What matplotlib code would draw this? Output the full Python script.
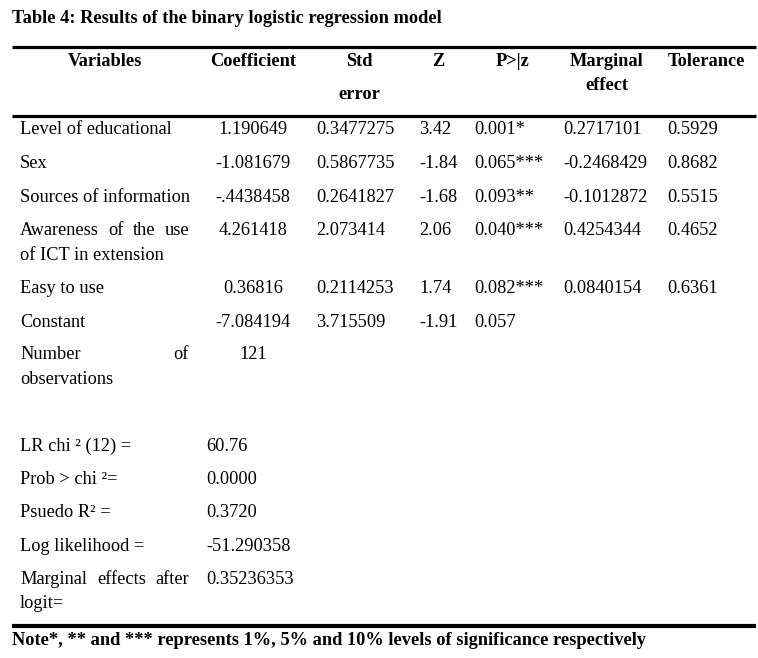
import matplotlib
matplotlib.use("Agg")
import matplotlib.pyplot as plt

plt.rcParams['font.family'] = ['Liberation Serif', 'DejaVu Serif']

title = "Table 4: Results of the binary logistic regression model"
headers = ["Variables", "Coefficient", "Std\n\nerror", "Z", "P>|z", "Marginal\neffect", "Tolerance"]
variables = ["Level of educational", "Sex", "Sources of information",
             "Awareness of the use|of ICT in extension", "Easy to use", "Constant",
             "Number of|observations"]
coefficient = ["1.190649", "-1.081679", "-.4438458", "4.261418", "0.36816", "-7.084194", "121"]
std_error = ["0.3477275", "0.5867735", "0.2641827", "2.073414", "0.2114253", "3.715509", ""]
z_values = ["3.42", "-1.84", "-1.68", "2.06", "1.74", "-1.91", ""]
p_values = ["0.001*", "0.065***", "0.093**", "0.040***", "0.082***", "0.057", ""]
marginal = ["0.2717101", "-0.2468429", "-0.1012872", "0.4254344", "0.0840154", "", ""]
tolerance = ["0.5929", "0.8682", "0.5515", "0.4652", "0.6361", "", ""]
stat_labels = ["LR chi \u00b2 (12) =", "Prob > chi \u00b2=", "Psuedo R\u00b2 =", "Log likelihood =",
               "Marginal effects after|logit="]
stat_values = ["60.76", "0.0000", "0.3720", "-51.290358", "0.35236353"]
note = "Note*, ** and *** represents 1%, 5% and 10% levels of significance respectively"

W, H = 758, 658
fig = plt.figure(figsize=(W / 100, H / 100), dpi=100)
ax = fig.add_axes([0, 0, 1, 1])
ax.set_xlim(0, W)
ax.set_ylim(H, 0)
ax.axis('off')

FS = 13.2
renderer = fig.canvas.get_renderer()

def txt(x, y, s, ha='left', bold=False):
    ax.text(x, y, s, fontsize=FS, va='baseline', ha=ha,
            fontweight='bold' if bold else 'normal')

def width_of(s):
    t = ax.text(0, 0, s, fontsize=FS)
    bb = t.get_window_extent(renderer=renderer)
    t.remove()
    return bb.width

def justified(line, x0, x1, y):
    words = line.split()
    if len(words) == 1:
        txt(x0, y, line)
        return
    widths = [width_of(w) for w in words]
    gap = (x1 - x0 - sum(widths)) / (len(words) - 1)
    x = x0
    for w, wd in zip(words, widths):
        txt(x, y, w)
        x += wd + gap

# Title
txt(12, 23, title, bold=True)

# Rules
ax.plot([12, 756], [46.5, 46.5], color='black', lw=2.3, solid_capstyle='butt')
ax.plot([12, 756], [115.5, 115.5], color='black', lw=2.3, solid_capstyle='butt')
ax.plot([12, 756], [626, 626], color='black', lw=3.0, solid_capstyle='butt')

# Headers
hx = [105, 253, 359, 438, 513, 607, 706]
for x, h in zip(hx, headers):
    if h.startswith("Std"):
        txt(x, 66, "Std", ha='center', bold=True)
        txt(x, 99, "error", ha='center', bold=True)
    elif "\n" in h:
        a, b = h.split("\n")
        txt(x, 66, a, ha='center', bold=True)
        txt(x, 90, b, ha='center', bold=True)
    else:
        txt(x, 66, h, ha='center', bold=True)

row_y = [134, 168, 201.5, 235, 293, 327, 359]
for i, y in enumerate(row_y):
    v = variables[i]
    if "|" in v:
        l1, l2 = v.split("|")
        justified(l1, 20, 189, y)
        txt(20, y + 24.5, l2)
    else:
        txt(20, y, v)
    txt(253, y, coefficient[i], ha='center')
    txt(316, y, std_error[i])
    txt(419, y, z_values[i])
    txt(474, y, p_values[i])
    txt(563, y, marginal[i])
    txt(667, y, tolerance[i])

stat_y = [451, 484, 517, 551, 584]
for lab, val, y in zip(stat_labels, stat_values, stat_y):
    if "|" in lab:
        l1, l2 = lab.split("|")
        justified(l1, 20, 189, y)
        txt(20, y + 24, l2)
    else:
        txt(20, y, lab)
    txt(206, y, val)

txt(12, 645, note, bold=True)

fig.savefig("out.png", dpi=100)
